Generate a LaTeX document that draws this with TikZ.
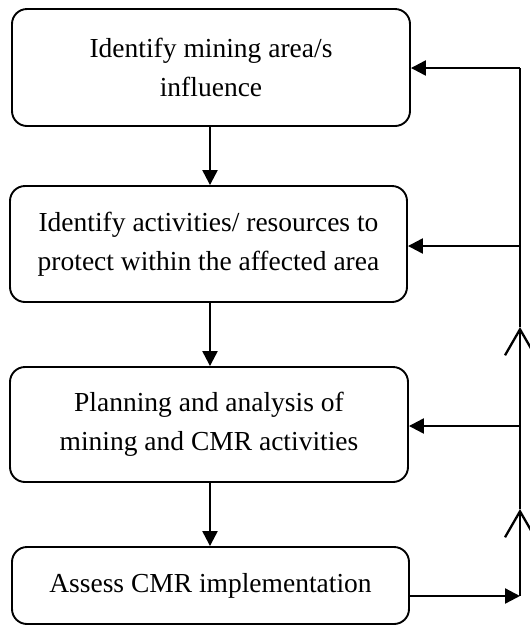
\documentclass[tikz,border=0pt]{standalone}
\usepackage{fontspec}
\setmainfont{Liberation Serif}
\usetikzlibrary{arrows.meta}
\tikzset{
  stepbox/.style={draw, line width=1.9pt, rounded corners=15pt, align=center,
    font=\fontsize{27.5}{39}\selectfont, inner sep=0pt},
  flow/.style={line width=2.3pt, -{Triangle[length=15pt,width=15pt]}},
  plain/.style={line width=2.3pt},
  upchev/.style={line width=2.3pt, -{Straight Barb[length=26pt,width=30pt,line width=2.3pt]}}
}
\begin{document}
\begin{tikzpicture}[x=1pt,y=-1pt]
\useasboundingbox (0,0) rectangle (530,625);
\node[stepbox, minimum width=398pt, minimum height=117pt] (b1) at (211,67.5)
  {Identify mining area/s\\influence};
\node[stepbox, minimum width=397pt, minimum height=116pt] (b2) at (208.5,244)
  {Identify activities/ resources to\\protect within the affected area};
\node[stepbox, minimum width=398pt, minimum height=115pt] (b3) at (209,424.5)
  {Planning and analysis of\\mining and CMR activities};
\node[stepbox, minimum width=397pt, minimum height=77pt] (b4) at (210.5,585.5)
  {Assess CMR implementation};
\coordinate (x1) at (210,126);
\coordinate (x2) at (210,302);
\coordinate (x3) at (210,482);
\draw[flow] (x1) -- (x1 |- b2.north);
\draw[flow] (x2) -- (x2 |- b3.north);
\draw[flow] (x3) -- (x3 |- b4.north);
\coordinate (r1) at (520,68);
\coordinate (r2) at (520,246);
\coordinate (r3) at (520,426);
\coordinate (r4) at (520,596);
\coordinate (a1) at (520,327);
\coordinate (a2) at (520,509);
\draw[flow] (b4.east |- r4) -- (r4);
\draw[upchev] (r4) -- (a2);
\draw[plain] (a2) -- (r3);
\draw[upchev] (r3) -- (a1);
\draw[plain] (a1) -- (r2) -- (r1);
\draw[flow] (r1) -- (b1.east |- r1);
\draw[flow] (r2) -- (b2.east |- r2);
\draw[flow] (r3) -- (b3.east |- r3);
\end{tikzpicture}
\end{document}
